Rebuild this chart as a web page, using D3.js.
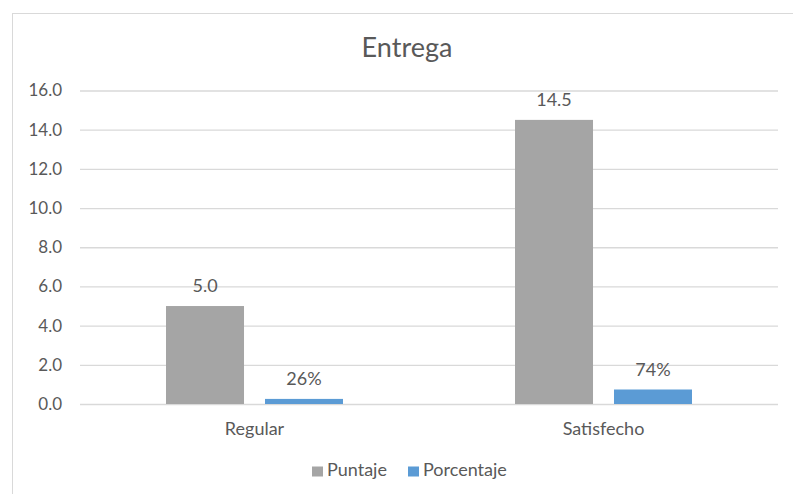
<!DOCTYPE html>
<html>
<head>
<meta charset="utf-8">
<script src="https://cdn.jsdelivr.net/npm/d3@7"></script>
<style>
  body { margin: 0; background: #fff; }
  text { font-family: Lato, "Noto Sans", sans-serif; fill: #595959; }
</style>
</head>
<body>
<svg id="chart" width="793" height="494"></svg>
<script>
// datos
var categorias = ["Regular", "Satisfecho"];
var series = ["Puntaje", "Porcentaje"];
var puntaje = [5.0, 14.5];
var porcentaje = [0.26, 0.74];
var yTicks = [0, 2, 4, 6, 8, 10, 12, 14, 16];
var colores = ["#A5A5A5", "#5B9BD5"];

var svg = d3.select("#chart");
var margin = { left: 80, right: 15, top: 90.5, bottom: 90 };
var width = 793 - margin.left - margin.right;
var height = 404 - margin.top;

// marco del grafico
svg.append("rect")
    .attr("x", 12.5).attr("y", 13.5)
    .attr("width", 800).attr("height", 500)
    .attr("fill", "none")
    .attr("stroke", "#D9D9D9");

svg.append("text")
    .attr("x", 407).attr("y", 56.5)
    .attr("text-anchor", "middle")
    .style("font-size", "27px")
    .text("Entrega");

var g = svg.append("g").attr("transform", "translate(" + margin.left + "," + margin.top + ")");

var x0 = d3.scaleBand().domain(categorias).range([0, width]).padding(0);
var x1 = d3.scaleBand().domain(series).range([0, x0.bandwidth()])
    .paddingInner(0.212).paddingOuter(0.869);
var y = d3.scaleLinear().domain([0, 16]).range([height, 0]);

// lineas de cuadricula
g.append("g")
    .call(d3.axisLeft(y).tickValues(yTicks).tickSize(-width).tickFormat(""))
    .call(function (s) {
        s.select(".domain").remove();
        s.selectAll("line").attr("stroke", "#D9D9D9").attr("stroke-width", 1.3);
    });

// etiquetas eje y
g.append("g")
    .call(d3.axisLeft(y).tickValues(yTicks).tickSize(0).tickPadding(18).tickFormat(d3.format(".1f")))
    .call(function (s) {
        s.select(".domain").remove();
        s.selectAll("text").style("font-size", "17px").attr("fill", "#595959");
    });

// eje x
g.append("g")
    .attr("transform", "translate(0," + height + ")")
    .call(d3.axisBottom(x0).tickSize(0).tickPadding(18))
    .call(function (s) {
        s.select(".domain").remove();
        s.selectAll("text").style("font-size", "18px").attr("fill", "#595959");
    });

var filas = categorias.map(function (c, i) {
    return { cat: c, vals: [{ s: series[0], v: puntaje[i], lbl: d3.format(".1f")(puntaje[i]) },
                            { s: series[1], v: porcentaje[i], lbl: d3.format(".0%")(porcentaje[i]) }] };
});

var grupos = g.selectAll(".cat").data(filas).enter().append("g")
    .attr("transform", function (d) { return "translate(" + x0(d.cat) + ",0)"; });

grupos.selectAll("rect").data(function (d) { return d.vals; }).enter().append("rect")
    .attr("x", function (d) { return x1(d.s); })
    .attr("width", x1.bandwidth())
    .attr("y", function (d) { return y(d.v); })
    .attr("height", function (d) { return height - y(d.v); })
    .attr("fill", function (d, i) { return colores[i]; });

grupos.selectAll(".lbl").data(function (d) { return d.vals; }).enter().append("text")
    .attr("x", function (d) { return x1(d.s) + x1.bandwidth() / 2; })
    .attr("y", function (d) { return y(d.v) - 14; })
    .attr("text-anchor", "middle")
    .style("font-size", "18px")
    .text(function (d) { return d.lbl; });

// leyenda
var leyX = [312, 408];
var ley = svg.selectAll(".ley").data(series).enter().append("g")
    .attr("transform", function (d, i) { return "translate(" + leyX[i] + ",466.5)"; });
ley.append("rect").attr("width", 11).attr("height", 10)
    .attr("fill", function (d, i) { return colores[i]; });
ley.append("text").attr("x", 15).attr("y", 9.5)
    .style("font-size", "18px")
    .text(function (d) { return d; });
</script>
</body>
</html>
